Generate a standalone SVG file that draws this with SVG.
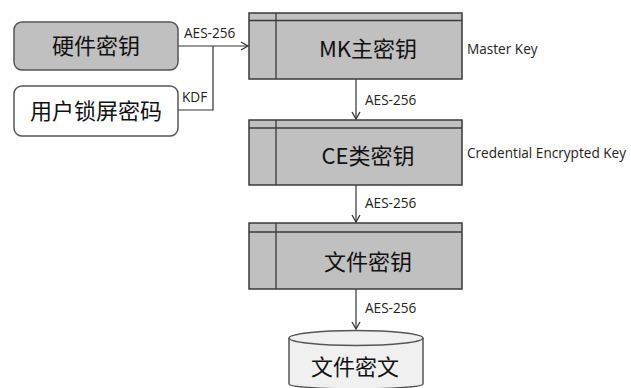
<svg xmlns="http://www.w3.org/2000/svg" width="631" height="388" viewBox="0 0 631 388">
<defs>
<style>
.key{fill:#c0c0c0;stroke:#3a3a3a;stroke-width:1.5}
.ln{fill:none;stroke:#3a3a3a;stroke-width:1.3}
.cn{fill:none;stroke:#333;stroke-width:1.2}
.big{font-family:"Noto Sans CJK SC","Noto Sans",sans-serif;font-size:22px;fill:#111;text-anchor:middle}
.lbl{font-family:"Open Sans","Noto Sans",sans-serif;font-size:13.6px;fill:#222}
</style>
<marker id="ar" markerWidth="10" markerHeight="10" refX="8" refY="5" orient="auto" markerUnits="userSpaceOnUse">
<path d="M1,1 L8,5 L1,9" fill="none" stroke="#333" stroke-width="1.3"/>
</marker>
</defs>
<rect width="631" height="388" fill="#fff"/>
<g id="connectors">
<path class="cn" d="M178,46 H248" marker-end="url(#ar)"/>
<path class="cn" d="M178,110 H213 V46"/>
<path class="cn" d="M356,79 V119" marker-end="url(#ar)"/>
<path class="cn" d="M356,185 V222" marker-end="url(#ar)"/>
<path class="cn" d="M356,289 V329" marker-end="url(#ar)"/>
<text class="lbl" x="184" y="38">AES-256</text>
<text class="lbl" x="182" y="102">KDF</text>
<text class="lbl" x="365" y="105">AES-256</text>
<text class="lbl" x="365" y="208">AES-256</text>
<text class="lbl" x="365" y="313">AES-256</text>
</g>
<g id="hwkey">
<rect x="14" y="22" width="164" height="48" rx="8" fill="#c0c0c0" stroke="#555" stroke-width="1.5"/>
<text class="big" x="96" y="54">硬件密钥</text>
</g>
<g id="userpwd">
<rect x="14" y="86" width="164" height="50" rx="8" fill="#fff" stroke="#555" stroke-width="1.5"/>
<text class="big" x="96" y="119">用户锁屏密码</text>
</g>
<g id="mk">
<rect class="key" x="249" y="13" width="213" height="66"/>
<path class="ln" d="M249,20.5 H462 M276,13 V79"/>
<text class="big" x="368" y="57">MK主密钥</text>
<text class="lbl" x="467" y="54">Master Key</text>
</g>
<g id="ce">
<rect class="key" x="249" y="120" width="213" height="65"/>
<path class="ln" d="M249,128 H462 M276,120 V185"/>
<text class="big" x="368" y="164">CE类密钥</text>
<text class="lbl" x="467" y="158">Credential Encrypted Key</text>
</g>
<g id="filekey">
<rect class="key" x="249" y="223" width="213" height="66"/>
<path class="ln" d="M249,232 H462 M276,223 V289"/>
<text class="big" x="368" y="270">文件密钥</text>
</g>
<g id="ciphertext">
<path d="M289,338 V384 A67,5 0 0 0 423,384 V338 A67,7.5 0 0 0 289,338 Z" fill="#f0f0f0" stroke="#555" stroke-width="1.5"/>
<path d="M289,338 A67,7.5 0 0 0 423,338" fill="none" stroke="#555" stroke-width="1.5"/>
<text class="big" x="355" y="375">文件密文</text>
</g>
</svg>
